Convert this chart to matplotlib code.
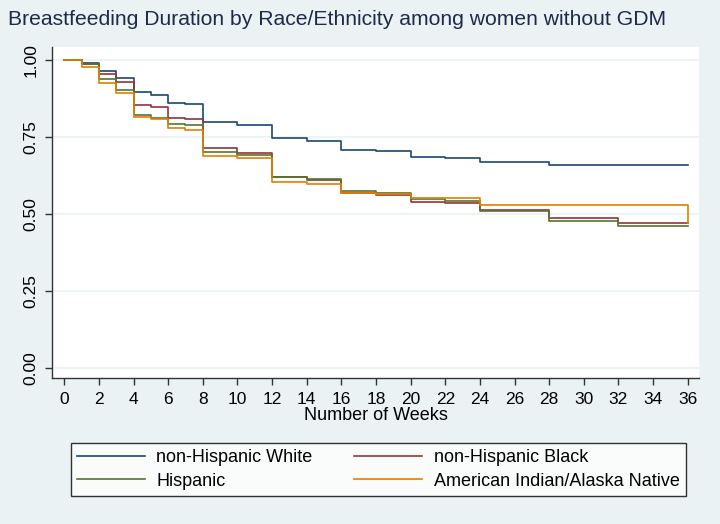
import matplotlib
matplotlib.use("Agg")
import matplotlib.pyplot as plt

# Kaplan-Meier style step estimates
weeks = [0, 1, 2, 3, 4, 5, 6, 7, 8, 10, 12, 14, 16, 18, 20, 22, 24, 28, 32, 36]
nh_white = [1.00, 0.990, 0.964, 0.940, 0.896, 0.886, 0.862, 0.858, 0.800, 0.788,
            0.746, 0.737, 0.709, 0.706, 0.686, 0.683, 0.668, 0.659, 0.659, 0.659]
nh_black = [1.00, 0.988, 0.954, 0.928, 0.853, 0.847, 0.813, 0.807, 0.713, 0.697,
            0.621, 0.612, 0.568, 0.563, 0.539, 0.537, 0.512, 0.489, 0.470, 0.470]
hispanic = [1.00, 0.986, 0.937, 0.903, 0.820, 0.813, 0.793, 0.788, 0.702, 0.691,
            0.622, 0.614, 0.575, 0.570, 0.548, 0.544, 0.509, 0.477, 0.461, 0.461]
aian = [1.00, 0.978, 0.926, 0.893, 0.815, 0.807, 0.778, 0.773, 0.690, 0.683,
        0.605, 0.597, 0.570, 0.564, 0.553, 0.551, 0.530, 0.530, 0.530, 0.471]

labels = ["non-Hispanic White", "non-Hispanic Black", "Hispanic",
          "American Indian/Alaska Native"]
colors = ["#1a476f", "#90353b", "#55752f", "#e37e00"]

xticks = list(range(0, 37, 2))
yticks = [0.0, 0.25, 0.5, 0.75, 1.0]
ytick_labels = ["0.00", "0.25", "0.50", "0.75", "1.00"]

bg = "#eaf2f3"
plt.rcParams['font.family'] = ['Liberation Sans', 'DejaVu Sans']

fig = plt.figure(figsize=(7.2, 5.24), dpi=100, facecolor=bg)
ax = fig.add_axes([0.0726, 0.278, 0.8987, 0.6314])
ax.set_facecolor("white")

lines = []
for ys, lab, col in zip([nh_white, nh_black, hispanic, aian], labels, colors):
    ln, = ax.plot(weeks, ys, drawstyle="steps-post", color=col, lw=1.2, label=lab)
    lines.append(ln)

ax.set_xlim(-0.69, 36.67)
ax.set_ylim(-0.0324, 1.0405)
ax.set_xticks(xticks)
ax.set_yticks(yticks)
ax.set_yticklabels(ytick_labels, rotation=90, va="center")
ax.tick_params(axis="both", labelsize=12.5, length=5, width=1, color="#333333")
ax.tick_params(axis="x", pad=5)
ax.tick_params(axis="y", pad=5)
ax.grid(axis="y", color=bg, lw=1.2)
ax.set_axisbelow(True)
for s in ["top", "right"]:
    ax.spines[s].set_visible(False)
for s in ["left", "bottom"]:
    ax.spines[s].set_color("#333333")
    ax.spines[s].set_linewidth(1)

ax.set_xlabel("Number of Weeks", fontsize=13, labelpad=0)

fig.text(0.011, 0.962, "Breastfeeding Duration by Race/Ethnicity among women without GDM",
         fontsize=15.2, color="#1e2a4a", va="center", ha="left")

# legend is filled column by column: reorder so rows read White/Black, Hispanic/AIAN
order = [0, 2, 1, 3]
leg = fig.legend([lines[i] for i in order], [labels[i] for i in order],
                 loc="lower left", ncol=2, mode="expand",
                 bbox_to_anchor=(70.7 / 720, 1 - 496 / 524, 615 / 720, 58 / 524),
                 fontsize=13, frameon=True, fancybox=False, edgecolor="black",
                 handlelength=3.77, handletextpad=0.61, borderaxespad=0,
                 borderpad=0.35, labelspacing=0.38, columnspacing=1.7)
leg.get_frame().set_linewidth(1)

fig.savefig("out.png", dpi=100, facecolor=bg)
